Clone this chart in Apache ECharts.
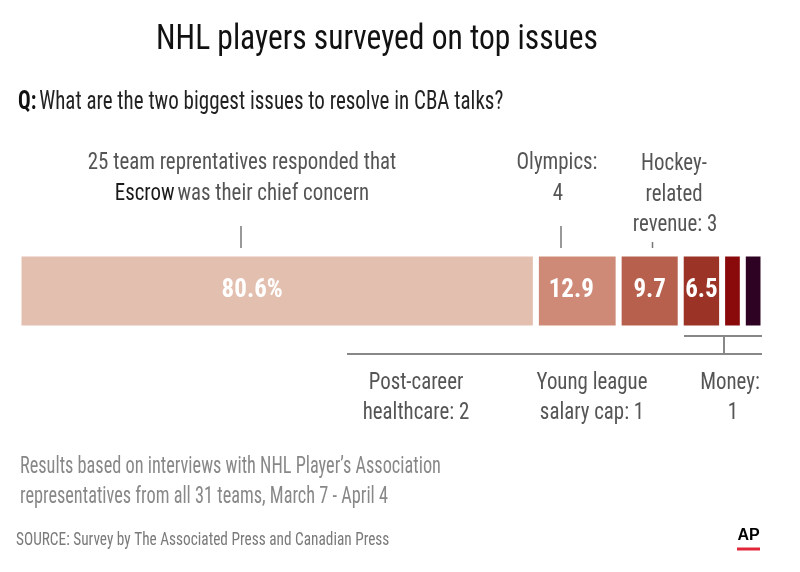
<!DOCTYPE html>
<html>
<head>
<meta charset="utf-8">
<script src="https://cdn.jsdelivr.net/npm/echarts/dist/echarts.min.js"></script>
<style>
html,body{margin:0;padding:0;background:#fff;}
#chart{width:800px;height:572px;}
</style>
</head>
<body>
<div id="chart"></div>
<script>
// ---- data ----
const categories = ['Escrow', 'Olympics', 'Hockey-related revenue', 'Post-career healthcare', 'Young league salary cap', 'Money'];
const counts = [25, 4, 3, 2, 1, 1];               // number of team representatives
const percentLabels = ['80.6%', '12.9', '9.7', '6.5', '', '']; // percent of 31 teams
const segmentColors = ['#e3bfb0', '#cf8a77', '#b6604d', '#9b3426', '#8a0a0c', '#2e0222'];
const totalResponses = 36;

const FONT = '"Liberation Sans Narrow", "Roboto Condensed", "DejaVu Sans Condensed", "Arial Narrow", sans-serif';
const labelOffsets = [[-25, 0], [-6, 0], [0, 0], [0, 0], [0, 0], [0, 0]];

const chart = echarts.init(document.getElementById('chart'), null, {renderer: 'canvas'});

const series = categories.map((name, i) => ({
  name: name,
  type: 'bar',
  stack: 'total',
  barWidth: '100%',
  barCategoryGap: 0,
  data: [counts[i]],
  itemStyle: {color: segmentColors[i], borderColor: '#ffffff', borderWidth: 3},
  label: {
    show: percentLabels[i] !== '',
    position: 'inside',
    offset: labelOffsets[i],
    formatter: () => percentLabels[i],
    color: '#ffffff',
    fontFamily: FONT,
    fontWeight: 'bold',
    fontSize: 25
  },
  silent: true
}));

function txt(x, y, text, size, color, align, sx) {
  return {
    type: 'text', x: x, y: y, scaleX: sx || 1,
    style: {
      text: text, fontFamily: FONT, fontSize: size, fill: color,
      textAlign: align || 'center', textVerticalAlign: 'middle'
    }
  };
}
function ln(x1, y1, x2, y2, color, w) {
  return {type: 'line', shape: {x1: x1, y1: y1, x2: x2, y2: y2}, style: {stroke: color, lineWidth: w || 1.5}};
}

const annoColor = '#555555';
const AS = 24, AX = 0.87;
const graphic = [
  txt(377, 40, 'NHL players surveyed on top issues', 35, '#111111', 'center', 0.9),
  {
    type: 'text', x: 18, y: 103, scaleX: 0.84,
    style: {
      text: '{b|Q:} {n|What are the two biggest issues to resolve in CBA talks?}',
      textAlign: 'left', textVerticalAlign: 'middle',
      rich: {
        b: {fontFamily: FONT, fontSize: 25, fontWeight: 'bold', fill: '#111111'},
        n: {fontFamily: FONT, fontSize: 25, fill: '#222222'}
      }
    }
  },
  txt(242, 163, '25 team reprentatives responded that', AS, annoColor, 'center', AX),
  {
    type: 'text', x: 242, y: 194, scaleX: AX,
    style: {
      text: '{d|Escrow} {n|was their chief concern}',
      textAlign: 'center', textVerticalAlign: 'middle',
      rich: {
        d: {fontFamily: FONT, fontSize: AS, fill: '#1a1a1a'},
        n: {fontFamily: FONT, fontSize: AS, fill: annoColor}
      }
    }
  },
  ln(241, 226, 241, 248, '#777'),
  txt(557, 163, 'Olympics:', AS, annoColor, 'center', AX),
  txt(558, 194, '4', AS, annoColor, 'center', AX),
  ln(561, 226, 561, 248, '#777'),
  txt(674, 164, 'Hockey-', AS, annoColor, 'center', AX),
  txt(674, 195, 'related', AS, annoColor, 'center', AX),
  txt(675, 225, 'revenue: 3', AS, annoColor, 'center', AX),
  ln(652.5, 242, 652.5, 248, '#777'),
  // bottom brackets
  ln(347, 354, 762, 354, '#888', 2),
  ln(684, 336, 762, 336, '#888', 2),
  ln(724, 336, 724, 354, '#888', 2),
  txt(416, 383, 'Post-career', AS, annoColor, 'center', AX),
  txt(416, 413, 'healthcare: 2', AS, annoColor, 'center', AX),
  txt(592, 383, 'Young league', AS, annoColor, 'center', AX),
  txt(592, 413, 'salary cap: 1', AS, annoColor, 'center', AX),
  txt(730, 383, 'Money:', AS, annoColor, 'center', AX),
  txt(733, 413, '1', AS, annoColor, 'center', AX),
  // footer
  txt(20, 467, 'Results based on interviews with NHL Player\u2019s Association', 23, '#888888', 'left', 0.795),
  txt(20, 497, 'representatives from all 31 teams, March 7 - April 4', 23, '#888888', 'left', 0.795),
  txt(16, 540, 'SOURCE: Survey by The Associated Press and Canadian Press', 19, '#7a7a7a', 'left', 0.806),
  {
    type: 'text', x: 748.5, y: 536,
    style: {text: 'AP', fontFamily: '"Liberation Sans", Arial, sans-serif', fontWeight: 'bold', fontSize: 16, fill: '#000', textAlign: 'center', textVerticalAlign: 'middle'}
  },
  ln(737, 549, 760, 549, '#e2263a', 3)
];

chart.setOption({
  animation: false,
  backgroundColor: '#ffffff',
  grid: {left: 18.5, right: 36.5, top: 253.5, height: 75, containLabel: false},
  xAxis: {type: 'value', min: 0, max: totalResponses, show: false},
  yAxis: {type: 'category', data: ['Responses'], show: false},
  series: series,
  graphic: graphic
});
</script>
</body>
</html>
